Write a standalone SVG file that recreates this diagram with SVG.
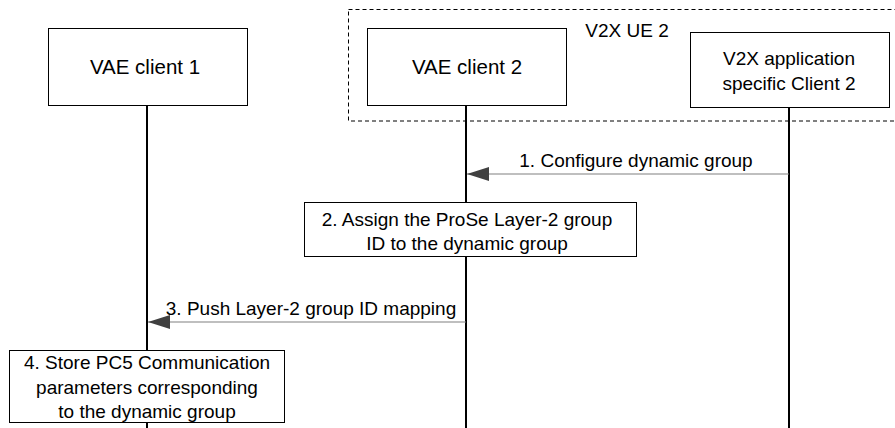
<svg xmlns="http://www.w3.org/2000/svg" width="895" height="428" viewBox="0 0 895 428">
<defs>
<style>
text{font-family:"Liberation Sans",Arial,sans-serif;font-size:19px;fill:#000;text-anchor:middle}
.big{font-size:20.5px}
.box{fill:#fff;stroke:#000;stroke-width:1}
.life{stroke:#000;stroke-width:2;fill:none}
.msg{stroke:#808080;stroke-width:1.2;fill:none}
.grp{fill:none;stroke:#000;stroke-width:1;stroke-dasharray:4,3}
</style>
<marker id="ah" markerWidth="22" markerHeight="14" refX="22" refY="7" orient="auto" markerUnits="userSpaceOnUse">
<path d="M0,0 L22,7 L0,14 Z" fill="#404040"/>
</marker>
</defs>
<rect width="895" height="428" fill="#fff"/>
<g id="ue2-group">
<rect class="grp" x="348.5" y="9.5" width="560" height="111.5"/>
<text x="627" y="37">V2X UE 2</text>
</g>
<g id="lifelines">
<line class="life" x1="147" y1="105" x2="147" y2="428"/>
<line class="life" x1="466" y1="105" x2="466" y2="428"/>
<line class="life" x1="789" y1="108" x2="789" y2="428"/>
</g>
<g id="connectors">
<line class="msg" x1="789" y1="174" x2="467" y2="174" marker-end="url(#ah)"/>
<text x="636" y="167">1. Configure dynamic group</text>
<line class="msg" x1="466" y1="322" x2="148" y2="322" marker-end="url(#ah)"/>
<text x="311" y="315">3. Push Layer-2 group ID mapping</text>
</g>
<g id="vae-client-1">
<rect class="box" x="48.5" y="28.5" width="199" height="77"/>
<text class="big" x="145" y="74">VAE client 1</text>
</g>
<g id="vae-client-2">
<rect class="box" x="367.5" y="28.5" width="199" height="77"/>
<text class="big" x="467" y="74">VAE client 2</text>
</g>
<g id="v2x-app-client-2">
<rect class="box" x="690.5" y="32.5" width="199" height="75"/>
<text x="789" y="65">V2X application</text>
<text x="789" y="90">specific Client 2</text>
</g>
<g id="step-2">
<rect class="box" x="304.5" y="202.5" width="332" height="54"/>
<text x="467" y="226">2. Assign the ProSe Layer-2 group</text>
<text x="467" y="250">ID to the dynamic group</text>
</g>
<g id="step-4">
<rect class="box" x="9.5" y="350.5" width="275" height="72"/>
<text x="147" y="369">4. Store PC5 Communication</text>
<text x="147" y="394">parameters corresponding</text>
<text x="147" y="418">to the dynamic group</text>
</g>
</svg>
